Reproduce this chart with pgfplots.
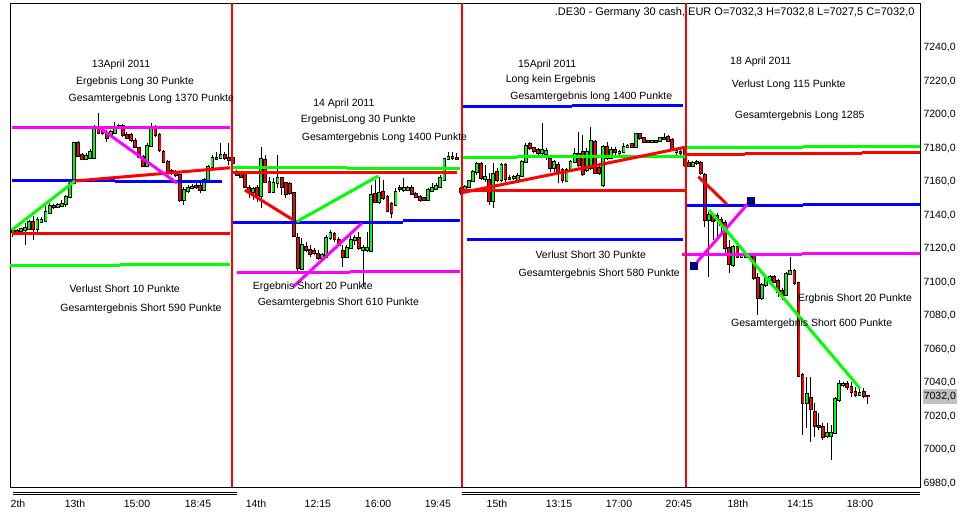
\documentclass[border=0pt]{standalone}
\usepackage{pgfplots}
\pgfplotsset{compat=1.18}
\usepackage{pgfplotstable}
\usepackage{fontspec}
\setmainfont{Liberation Sans}
\definecolor{cgreen}{HTML}{00FF00}
\definecolor{cred}{HTML}{FF0000}
\definecolor{cblue}{HTML}{0000FF}
\definecolor{cmag}{HTML}{FF00FF}
\definecolor{cnavy}{HTML}{000080}
\definecolor{cgray}{HTML}{C0C0C0}

% green (rising) candles: bar index, open, high, low, close
\pgfplotstableread{
n o h l c
2 7130.5 7132.3 7129.7 7131.7
3 7131.3 7135.3 7122.4 7132.7
4 7131.9 7137.3 7131.3 7135.9
6 7131.7 7139.3 7130.3 7137.3
7 7136.3 7139.3 7135.3 7137.3
8 7136.7 7146.3 7135.9 7141.9
9 7141.7 7147.3 7140.9 7145.7
11 7145.3 7147.3 7144.7 7146.3
12 7145.7 7149.3 7144.9 7146.7
13 7146.7 7152.2 7145.3 7151.2
14 7150.8 7160.2 7150.2 7158.8
15 7159.6 7184.1 7158.8 7183.1
18 7173.5 7177.5 7173.1 7175.7
19 7174.1 7179.5 7173.5 7177.7
20 7174.5 7194.0 7174.1 7192.0
24 7188.1 7191.0 7187.1 7190.0
25 7189.4 7196.0 7189.1 7192.0
33 7169.5 7183.1 7168.7 7181.5
34 7181.5 7195.0 7180.7 7192.0
42 7149.3 7157.2 7146.3 7155.2
43 7154.8 7158.2 7153.6 7156.2
44 7156.4 7158.8 7155.6 7157.2
47 7155.2 7162.2 7154.8 7161.2
48 7161.2 7170.1 7160.2 7168.7
49 7168.7 7176.1 7167.2 7174.5
51 7174.5 7183.1 7174.1 7175.9
59 7154.2 7157.2 7149.3 7155.8
61 7151.7 7181.1 7144.3 7173.7
64 7154.2 7162.2 7153.2 7159.2
65 7159.2 7176.1 7156.2 7162.2
71 7108.1 7126.4 7107.5 7122.4
76 7114.4 7117.4 7113.4 7116.4
77 7115.4 7128.4 7114.4 7126.4
78 7126.4 7131.3 7125.4 7129.4
82 7115.4 7122.4 7114.4 7120.8
83 7120.8 7129.4 7120.4 7125.4
84 7125.4 7128.4 7122.4 7126.8
86 7119.4 7122.4 7097.5 7120.8
87 7119.2 7130.3 7118.4 7120.8
88 7118.8 7158.2 7118.4 7152.2
90 7147.9 7163.2 7146.7 7153.2
94 7146.3 7156.2 7145.9 7154.2
96 7155.2 7162.2 7154.2 7156.6
97 7155.2 7157.8 7154.6 7156.6
102 7149.3 7156.2 7148.7 7155.2
103 7154.6 7159.2 7154.2 7156.2
104 7155.8 7159.2 7155.2 7157.8
105 7157.2 7164.2 7156.2 7162.2
106 7161.2 7174.1 7160.6 7173.7
107 7173.7 7178.1 7173.1 7175.1
111 7155.2 7158.2 7154.2 7157.2
112 7157.2 7161.2 7156.6 7160.6
113 7160.6 7167.2 7160.2 7165.8
114 7165.8 7172.1 7164.2 7170.5
116 7161.8 7170.1 7160.2 7163.2
118 7148.7 7171.1 7144.7 7164.6
120 7161.2 7171.1 7160.2 7170.1
123 7162.2 7164.2 7161.2 7163.2
124 7161.2 7165.2 7160.2 7163.6
125 7163.6 7173.1 7163.2 7172.1
126 7172.1 7183.1 7171.1 7181.7
130 7177.1 7195.0 7175.1 7179.1
131 7176.5 7180.1 7173.1 7178.5
133 7168.2 7173.1 7166.2 7171.7
136 7160.6 7168.2 7160.2 7167.2
137 7167.2 7173.1 7166.2 7171.7
138 7171.7 7180.1 7171.1 7176.5
141 7167.2 7180.1 7166.2 7177.7
142 7168.2 7193.0 7167.2 7184.5
145 7158.2 7182.1 7157.2 7181.1
147 7174.5 7181.1 7173.7 7179.1
149 7177.1 7179.1 7176.1 7178.1
150 7177.7 7183.1 7177.1 7181.1
151 7180.7 7182.5 7180.1 7181.5
153 7181.1 7189.1 7180.5 7188.5
157 7184.1 7185.1 7183.7 7184.5
159 7184.5 7187.1 7183.7 7186.1
163 7177.7 7180.1 7176.1 7178.5
167 7169.5 7172.7 7169.2 7171.5
171 7137.3 7142.3 7103.5 7140.3
177 7110.4 7122.4 7109.5 7121.0
179 7115.4 7117.4 7114.4 7116.4
180 7115.4 7117.4 7114.4 7116.4
184 7090.5 7099.5 7089.5 7098.5
185 7098.5 7103.5 7097.5 7101.9
186 7101.5 7104.5 7100.5 7103.1
190 7092.5 7106.5 7091.9 7105.1
191 7105.1 7115.4 7104.5 7107.1
195 7028.3 7043.8 7012.9 7033.4
200 7008.4 7015.9 7007.0 7010.0
201 7008.4 7014.9 6994.0 7010.3
202 7010.3 7031.8 7010.0 7030.2
203 7029.9 7041.8 7028.9 7039.2
204 7038.6 7040.8 7037.8 7039.2
208 7032.8 7036.2 7032.2 7033.8
}\greenT

% red (falling) candles: bar index, open, high, low, close
\pgfplotstableread{
n o h l c
0 7131.3 7132.3 7127.4 7130.1
1 7130.9 7131.7 7128.9 7130.1
5 7135.9 7139.7 7125.4 7131.7
10 7145.9 7146.9 7144.1 7144.9
16 7183.1 7184.7 7175.1 7175.7
17 7176.1 7177.1 7173.1 7173.5
21 7192.0 7201.0 7189.1 7189.4
22 7191.0 7192.0 7188.1 7189.1
23 7189.4 7191.0 7184.1 7186.1
26 7193.6 7194.6 7192.0 7193.0
27 7193.4 7194.6 7187.1 7188.1
28 7188.1 7190.0 7185.5 7186.1
29 7188.1 7189.1 7184.1 7185.1
30 7184.7 7186.1 7180.1 7180.7
31 7180.1 7181.1 7174.1 7175.1
32 7175.1 7176.1 7169.1 7169.5
35 7192.0 7194.0 7187.1 7188.1
36 7188.1 7189.1 7178.1 7179.1
37 7178.1 7179.1 7171.1 7172.1
38 7172.1 7173.1 7165.2 7166.2
39 7166.6 7167.6 7164.2 7165.8
40 7166.2 7167.2 7163.2 7164.2
41 7164.2 7165.2 7148.3 7149.3
45 7157.6 7159.2 7156.0 7156.8
46 7157.6 7160.2 7153.2 7155.2
50 7174.5 7178.1 7173.1 7173.5
52 7175.9 7178.1 7173.1 7174.1
53 7174.1 7183.1 7170.1 7173.1
54 7174.1 7176.1 7170.1 7171.1
55 7166.2 7167.2 7163.8 7164.2
56 7165.2 7166.2 7162.2 7162.8
57 7164.6 7165.2 7156.2 7157.2
58 7156.6 7158.2 7150.2 7154.2
60 7156.2 7158.2 7148.3 7152.2
62 7173.1 7176.1 7159.2 7160.0
63 7160.2 7163.2 7153.2 7154.2
66 7162.2 7163.2 7152.2 7157.2
67 7159.2 7160.2 7150.2 7152.6
68 7158.6 7160.2 7152.2 7153.2
69 7153.2 7154.2 7127.4 7128.0
70 7126.8 7129.4 7106.5 7108.5
72 7121.4 7124.4 7118.4 7119.4
73 7119.4 7122.4 7115.4 7116.8
74 7118.8 7120.4 7116.4 7117.4
75 7116.8 7119.4 7113.4 7114.4
79 7128.8 7130.3 7124.4 7126.0
80 7125.4 7127.4 7121.4 7122.4
81 7118.8 7122.4 7109.5 7115.4
85 7126.8 7130.3 7119.4 7120.4
89 7152.6 7161.2 7147.3 7147.9
91 7153.8 7161.2 7149.3 7150.2
92 7151.2 7152.2 7142.3 7142.7
93 7146.7 7148.3 7138.7 7141.3
95 7156.2 7158.2 7154.2 7155.6
98 7156.6 7158.2 7152.2 7152.6
99 7152.6 7154.2 7150.2 7151.2
100 7151.2 7152.2 7148.3 7149.3
101 7150.2 7151.2 7148.7 7149.3
108 7175.1 7178.1 7173.1 7174.1
109 7174.5 7177.1 7173.1 7173.7
110 7155.8 7157.2 7152.2 7153.8
115 7170.5 7172.1 7161.2 7162.2
117 7161.2 7165.2 7146.3 7148.7
119 7165.8 7168.2 7160.2 7161.2
121 7170.1 7171.1 7160.2 7161.8
122 7162.6 7164.2 7161.2 7161.8
127 7182.5 7183.7 7179.1 7180.1
128 7180.5 7181.1 7177.1 7178.5
129 7179.1 7180.1 7176.1 7177.1
132 7173.7 7175.1 7166.2 7168.2
134 7170.1 7172.1 7159.2 7166.2
135 7167.2 7168.2 7159.2 7161.2
139 7176.5 7189.6 7169.2 7170.1
140 7177.7 7188.1 7163.8 7164.6
143 7184.1 7185.1 7164.6 7165.2
144 7168.2 7170.1 7164.2 7165.2
146 7181.1 7184.1 7173.1 7174.1
148 7179.1 7181.1 7176.1 7177.7
152 7182.5 7183.1 7180.1 7180.7
154 7188.7 7189.1 7185.1 7186.1
155 7186.5 7187.1 7183.7 7184.1
156 7184.5 7185.1 7183.7 7184.1
158 7184.5 7185.1 7183.7 7184.1
160 7186.5 7189.1 7185.1 7185.7
161 7187.1 7188.1 7184.1 7184.5
162 7185.1 7186.1 7179.1 7179.7
164 7178.1 7179.1 7176.1 7177.1
165 7180.1 7181.1 7169.2 7170.1
166 7171.5 7173.1 7168.8 7169.5
168 7171.7 7173.1 7170.1 7171.1
169 7171.5 7172.7 7164.2 7165.2
170 7164.2 7165.2 7133.3 7137.3
172 7140.3 7141.3 7125.4 7136.9
173 7139.7 7141.3 7127.4 7137.3
174 7137.3 7139.3 7129.4 7134.3
175 7135.3 7137.3 7117.4 7120.4
176 7120.4 7125.4 7105.5 7111.0
178 7121.0 7121.8 7114.4 7115.4
181 7116.4 7117.4 7113.4 7115.4
182 7116.4 7117.4 7101.5 7102.5
183 7102.5 7105.5 7080.6 7090.5
187 7103.1 7104.5 7099.5 7100.5
188 7101.1 7101.9 7091.5 7094.5
189 7095.1 7096.5 7089.5 7092.5
192 7107.1 7107.9 7098.5 7099.5
193 7099.5 7100.5 7043.8 7044.2
194 7044.8 7045.8 7009.0 7028.3
196 7030.8 7043.8 7005.0 7024.3
197 7022.5 7027.9 7008.0 7014.3
198 7014.3 7021.9 7011.9 7013.7
199 7013.9 7015.9 7006.0 7007.6
205 7039.2 7041.4 7035.8 7037.8
206 7037.8 7040.8 7031.8 7034.8
207 7034.8 7037.8 7031.8 7032.8
209 7034.8 7036.8 7030.8 7032.2
210 7032.3 7032.8 7027.5 7032.0
}\redT

\pgfplotsset{candle/.style={draw=none, mark=none, forget plot,
  error bars/.cd, y dir=plus, y explicit, error mark=none}}

\begin{document}
\begin{tikzpicture}[font=\fontsize{10.5}{12}\selectfont]
\useasboundingbox[fill=white] (-10pt,-27pt) rectangle (952pt,487pt);
\begin{axis}[
  at={(0,0)}, anchor=south west,
  scale only axis, width=910pt, height=484pt,
  xmin=-0.737, xmax=222.85, ymin=6977.91, ymax=7266.87,
  clip=false,
  axis line style={black, line width=0.9pt},
  xtick={1.23,15.23,30.47,45.45,59.7,74.9,89.7,104.4,118.9,134.15,148.9,163.6,178.1,193.4,208.1},
  xticklabels={2th,13th,15:00,18:45,14th,12:15,16:00,19:45,15th,13:15,17:00,20:45,18th,14:15,18:00},
  xticklabel style={anchor=base, yshift=-20.3pt},
  ytick={6980,7000,7020,7040,7060,7080,7100,7120,7140,7160,7180,7200,7220,7240},
  yticklabels={{6980,0},{7000,0},{7020,0},{7040,0},{7060,0},{7080,0},{7100,0},{7120,0},{7140,0},{7160,0},{7180,0},{7200,0},{7220,0},{7240,0}},
  yticklabel pos=right,
  yticklabel style={anchor=west},
  major tick length=0pt,
  tick label style={font=\fontsize{10.5}{12}\selectfont},
]
% wicks
\addplot[candle, error bar style={draw=black, line width=1pt}]
  table[x=n, y=l, y error plus expr=\thisrow{h}-\thisrow{l}] {\greenT};
\addplot[candle, error bar style={draw=black, line width=1pt}]
  table[x=n, y=l, y error plus expr=\thisrow{h}-\thisrow{l}] {\redT};
% body outlines
\addplot[candle, error bar style={draw=black, line width=3.8pt}]
  table[x=n, y expr=\thisrow{o}-0.6, y error plus expr=\thisrow{c}-\thisrow{o}+1.2] {\greenT};
\addplot[candle, error bar style={draw=black, line width=3.8pt}]
  table[x=n, y expr=\thisrow{c}-0.6, y error plus expr=\thisrow{o}-\thisrow{c}+1.2] {\redT};
% body fills
\addplot[candle, error bar style={draw=cgreen, line width=2pt}]
  table[x=n, y=o, y error plus expr=\thisrow{c}-\thisrow{o}] {\greenT};
\addplot[candle, error bar style={draw=cred, line width=2pt}]
  table[x=n, y=c, y error plus expr=\thisrow{o}-\thisrow{c}] {\redT};

% ---- 13 April overlays
\addplot[cmag, line width=3pt] coordinates {(-0.25,7192.8) (53.3,7192.8)};
\addplot[cblue, line width=3pt] coordinates {(-0.25,7161.0) (25.06,7161.0)};
\addplot[cblue, line width=3pt] coordinates {(25.06,7160.4) (51.35,7160.4)};
\addplot[cred, line width=3pt] coordinates {(-0.25,7129.4) (53.3,7129.4)};
\addplot[cgreen, line width=2.5pt] coordinates {(-0.74,7110.0) (26.3,7110.0)};
\addplot[cgreen, line width=2.5pt] coordinates {(26.3,7110.6) (53.3,7110.6)};
\addplot[cgreen, line width=3pt] coordinates {(-0.32,7131.3) (15.23,7160.6)};
\addplot[cred, line width=3pt] coordinates {(15.23,7160.6) (53.32,7168.5)};
\addplot[cmag, line width=3pt] coordinates {(21.38,7192.2) (40.29,7159.4)};
% ---- 14 April overlays
\addplot[cgreen, line width=3pt] coordinates {(54.05,7168.8) (82.06,7168.8)};
\addplot[cgreen, line width=3pt] coordinates {(82.06,7168.2) (109.8,7168.2)};
\addplot[cred, line width=3pt] coordinates {(54.05,7165.8) (109.1,7165.8)};
\addplot[cblue, line width=3pt] coordinates {(54.05,7135.9) (95.8,7135.9)};
\addplot[cblue, line width=3pt] coordinates {(95.8,7137.1) (109.8,7137.1)};
\addplot[cmag, line width=3pt] coordinates {(55.04,7105.8) (82.8,7105.8)};
\addplot[cmag, line width=3pt] coordinates {(82.8,7106.3) (109.8,7106.3)};
\addplot[cred, line width=3pt] coordinates {(57.0,7155.2) (68.87,7137.3)};
\addplot[cgreen, line width=3pt] coordinates {(69.7,7136.3) (89.75,7163.6)};
\addplot[cmag, line width=3pt] coordinates {(68.87,7097.5) (85.68,7135.3)};
% ---- 15 April overlays
\addplot[cblue, line width=3pt] coordinates {(110.25,7204.8) (137.3,7204.8)};
\addplot[cblue, line width=3pt] coordinates {(137.3,7205.4) (164.7,7205.4)};
\addplot[cgreen, line width=3pt] coordinates {(110.07,7174.7) (123.8,7174.7)};
\addplot[cgreen, line width=3pt] coordinates {(123.8,7175.5) (165.1,7175.5)};
\addplot[cred, line width=3pt] coordinates {(110.25,7154.8) (165.4,7154.8)};
\addplot[cred, line width=3pt] coordinates {(110.25,7153.6) (165.1,7180.7)};
\addplot[cblue, line width=3pt] coordinates {(111.5,7125.4) (164.7,7125.4)};
% ---- 18 April overlays
\addplot[cgreen, line width=3pt] coordinates {(165.5,7180.8) (194.1,7180.8)};
\addplot[cgreen, line width=3pt] coordinates {(194.1,7181.4) (222.85,7181.4)};
\addplot[cred, line width=3pt] coordinates {(165.5,7176.5) (179.9,7176.5)};
\addplot[cred, line width=3pt] coordinates {(179.9,7177.1) (208.5,7177.1)};
\addplot[cred, line width=3pt] coordinates {(208.5,7177.7) (222.85,7177.7)};
\addplot[cblue, line width=3pt] coordinates {(165.5,7146.1) (194.1,7146.1)};
\addplot[cblue, line width=3pt] coordinates {(194.1,7146.7) (222.85,7146.7)};
\addplot[cmag, line width=3pt] coordinates {(164.4,7116.8) (193.8,7116.8)};
\addplot[cmag, line width=3pt] coordinates {(193.8,7117.4) (222.85,7117.4)};
\addplot[cred, line width=3pt] coordinates {(168.4,7163.2) (175.4,7146.7)};
\addplot[cmag, line width=3pt] coordinates {(168.06,7112.2) (180.6,7147.2)};
\addplot[cgreen, line width=3pt] coordinates {(171.0,7143.3) (208.1,7036.8)};
\addplot[only marks, mark=square*, mark size=3.5pt, color=cnavy, fill=cnavy] coordinates {(167.3,7110.3) (181.15,7149.1)};
% ---- day separators
\addplot[cred, line width=2pt] coordinates {(53.88,6977.91) (53.88,7266.87)};
\addplot[cred, line width=2pt] coordinates {(110.25,6977.91) (110.25,7266.87)};
\addplot[cred, line width=2pt] coordinates {(165.36,6977.91) (165.36,7266.87)};
% ---- time scale double lines
\addplot[black, line width=0.8pt] coordinates {(0,6974.75) (55.04,6974.75)};
\addplot[black, line width=0.8pt] coordinates {(0,6973.3) (55.04,6973.3)};
\addplot[black, line width=0.8pt] coordinates {(110.3,6974.75) (222.85,6974.75)};
\addplot[black, line width=0.8pt] coordinates {(110.3,6973.3) (222.85,6973.3)};

% ---- texts
\node[anchor=east, font=\fontsize{11}{13}\selectfont] at (axis cs:222.36,7261.3) {.DE30 - Germany 30 cash, EUR O=7032,3 H=7032,8 L=7027,5 C=7032,0};
\node at (axis cs:26.54,7229.85) {13April 2011};
\node at (axis cs:29.98,7219.9) {Ergebnis Long 30 Punkte};
\node at (axis cs:33.98,7209.55) {Gesamtergebnis Long 1370 Punkte};
\node at (axis cs:27.44,7096.1) {Verlust Short 10 Punkte};
\node at (axis cs:31.45,7084.2) {Gesamtergebnis Short 590 Punkte};
\node at (axis cs:81.28,7206.99) {14 April 2011};
\node at (axis cs:84.84,7197.4) {ErgebnisLong 30 Punkte};
\node at (axis cs:91.28,7186.1) {Gesamtergebnis Long 1400 Punkte};
\node at (axis cs:73.66,7097.3) {Ergebnis Short 20 Punkte};
\node at (axis cs:79.93,7087.8) {Gesamtergebnis Short 610 Punkte};
\node at (axis cs:131.25,7229.85) {15April 2011};
\node at (axis cs:132.14,7220.9) {Long kein Ergebnis};
\node at (axis cs:142.09,7210.9) {Gesamtergebnis long 1400 Punkte};
\node at (axis cs:141.94,7116.4) {Verlust Short 30 Punkte};
\node at (axis cs:144.05,7105.5) {Gesamtergebnis Short 580 Punkte};
\node at (axis cs:183.73,7231.8) {18 April 2011};
\node at (axis cs:190.59,7217.9) {Verlust Long 115 Punkte};
\node at (axis cs:193.29,7199.6) {Gesamtergebnis Long 1285};
\node at (axis cs:206.88,7090.0) {Ergbnis Short 20 Punkte};
\node at (axis cs:196.24,7075.2) {Gesamtergebnis Short 600 Punkte};
\node[fill=cgray, anchor=west, inner xsep=1pt, inner ysep=0pt, minimum height=15.6pt, xshift=2.6pt] at (axis cs:222.85,7032) {7032,0};
\end{axis}
\end{tikzpicture}
\end{document}
